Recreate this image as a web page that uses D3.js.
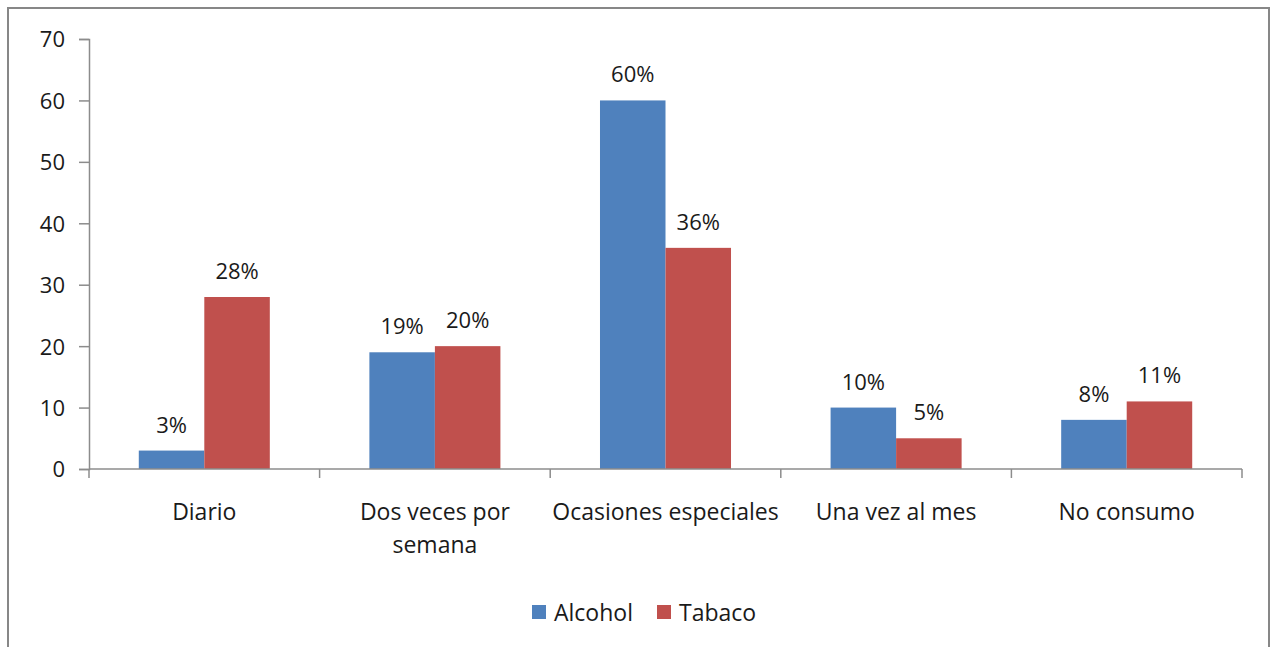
<!DOCTYPE html>
<html>
<head>
<meta charset="utf-8">
<script src="https://cdn.jsdelivr.net/npm/d3@7"></script>
<style>
  body { margin: 0; background: #fff; }
  text { font-family: "Open Sans", Lato, sans-serif; fill: #1a1a1a; }
</style>
</head>
<body>
<script>
var w = 1271, h = 647;

var categories = ["Diario", "Dos veces por semana", "Ocasiones especiales", "Una vez al mes", "No consumo"];
var categoryLines = [["Diario"], ["Dos veces por", "semana"], ["Ocasiones especiales"], ["Una vez al mes"], ["No consumo"]];
var series = ["Alcohol", "Tabaco"];
var alcohol = [3, 19, 60, 10, 8];
var tabaco = [28, 20, 36, 5, 11];
var colors = ["#4F81BD", "#C0504D"];
var yTicks = [0, 10, 20, 30, 40, 50, 60, 70];

var svg = d3.select("body")
    .append("svg")
    .attr("width", w)
    .attr("height", h);

// outer frame
svg.append("rect")
    .attr("x", 8).attr("y", 8)
    .attr("width", 1261).attr("height", 660)
    .style("fill", "none")
    .style("stroke", "#878787")
    .style("stroke-width", 2);

var xScale = d3.scaleBand()
    .domain(categories)
    .range([89, 1242]);

var xInner = d3.scaleBand()
    .domain(series)
    .range([0, xScale.bandwidth()])
    .paddingOuter(0.76);

var yScale = d3.scaleLinear()
    .domain([0, 70])
    .range([469, 39]);

var data = categories.map(function(c, i) {
    return {cat: c, values: [alcohol[i], tabaco[i]]};
});

// bars
var groups = svg.selectAll("g.cat")
    .data(data)
    .enter().append("g")
    .attr("class", "cat")
    .attr("transform", d => "translate(" + xScale(d.cat) + ",0)");

groups.selectAll("rect")
    .data(d => d.values.map((v, j) => ({s: series[j], v: v, j: j})))
    .enter().append("rect")
    .attr("x", d => xInner(d.s))
    .attr("y", d => yScale(d.v))
    .attr("width", xInner.bandwidth())
    .attr("height", d => yScale(0) - yScale(d.v))
    .style("fill", d => colors[d.j]);

groups.selectAll("text.lbl")
    .data(d => d.values.map((v, j) => ({s: series[j], v: v})))
    .enter().append("text")
    .attr("class", "lbl")
    .attr("x", d => xInner(d.s) + xInner.bandwidth() / 2)
    .attr("y", d => yScale(d.v) - 18)
    .attr("text-anchor", "middle")
    .style("font-size", "22px")
    .text(d => d.v + "%");

// y axis
var yAxis = d3.axisLeft(yScale)
    .tickValues(yTicks)
    .tickSize(10)
    .tickPadding(14);

var gy = svg.append("g")
    .attr("transform", "translate(89,0)")
    .call(yAxis);
gy.selectAll("text").style("font-size", "22px").attr("dy", "0.36em");

// x axis
var gx = svg.append("g")
    .attr("transform", "translate(0,469)");
gx.append("line")
    .attr("x1", 89).attr("x2", 1242)
    .attr("y1", 0).attr("y2", 0);
gx.selectAll("line.tick")
    .data(categories.concat(["end"]))
    .enter().append("line")
    .attr("class", "tick")
    .attr("x1", (d, i) => i < categories.length ? xScale(d) : xScale.range()[1])
    .attr("x2", (d, i) => i < categories.length ? xScale(d) : xScale.range()[1])
    .attr("y1", 0).attr("y2", 9);

svg.selectAll(".domain, .tick line, g line")
    .style("stroke", "#8c8c8c")
    .style("stroke-width", 1.5);

// category labels
var catText = svg.selectAll("text.cat")
    .data(categories)
    .enter().append("text")
    .attr("class", "cat")
    .attr("x", d => xScale(d) + xScale.bandwidth() / 2)
    .attr("y", 520)
    .attr("text-anchor", "middle")
    .style("font-size", "23px");

catText.selectAll("tspan")
    .data((d, i) => categoryLines[i])
    .enter().append("tspan")
    .attr("x", function() { return this.parentNode.getAttribute("x"); })
    .attr("dy", (d, i) => i === 0 ? 0 : 33)
    .text(d => d);

// legend
var legendX = [532, 657];
var legend = svg.selectAll("g.legend")
    .data(series)
    .enter().append("g")
    .attr("class", "legend")
    .attr("transform", (d, i) => "translate(" + legendX[i] + ",605)");

legend.append("rect")
    .attr("width", 14).attr("height", 14)
    .style("fill", (d, i) => colors[i]);

legend.append("text")
    .attr("x", 22)
    .attr("y", 16)
    .style("font-size", "23px")
    .text(d => d);
</script>
</body>
</html>
